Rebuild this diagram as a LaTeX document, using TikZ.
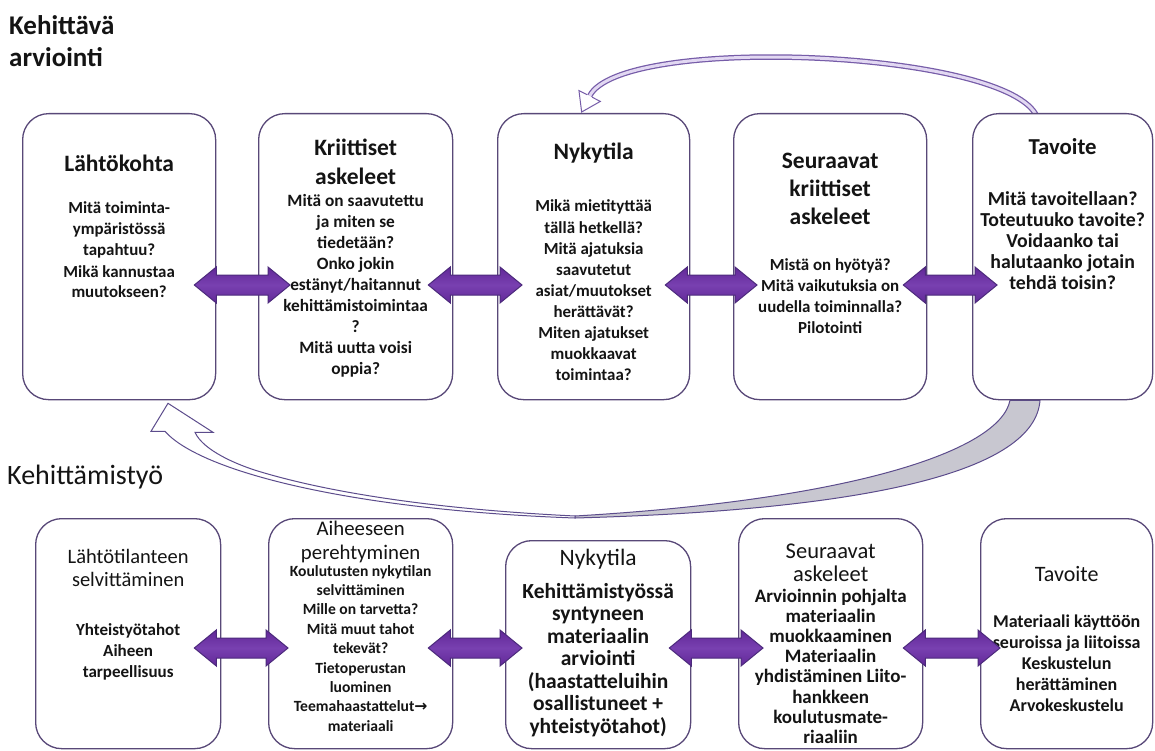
\documentclass[tikz,border=0pt]{standalone}
\usepackage{fontspec}
\setmainfont{Carlito}
\newfontfamily\arrowfont{DejaVu Sans}
\usetikzlibrary{calc}

\definecolor{boxline}{RGB}{88,72,120}
\definecolor{apurple}{RGB}{98,40,152}
\definecolor{apurplelight}{RGB}{120,64,176}
\definecolor{aline}{RGB}{76,42,124}
\definecolor{arcline}{RGB}{118,92,168}
\definecolor{arcfill}{RGB}{226,216,242}
\definecolor{bandfill}{RGB}{200,199,208}
\definecolor{bandline}{RGB}{92,76,140}
\definecolor{ink}{RGB}{20,20,20}

\pgfdeclarelayer{back}
\pgfsetlayers{back,main}

% centred and left-aligned line stacks: baseline on the first line,
% lines set exactly one \baselineskip apart
\newcommand\stackc[1]{{\def\\{\cr}\vtop{\lineskiplimit=-100pt\lineskip=0pt
  \halign{\hfil##\hfil\cr#1\crcr}}}}
\newcommand\stackl[1]{{\def\\{\cr}\vtop{\lineskiplimit=-100pt\lineskip=0pt
  \halign{##\hfil\cr#1\crcr}}}}
\newcommand\fs[2]{\fontsize{#1}{#2}\selectfont}

\tikzset{
  box/.style={draw=boxline, fill=white, line width=1.3pt, rounded corners=26pt,
              inner sep=0pt, anchor=north west},
  txt/.style={anchor=base, inner sep=0pt, text=ink},
  twoarrow/.style={draw=aline, line width=1pt, top color=apurple,
                   bottom color=apurple, middle color=apurplelight},
}

% double block arrow between two boxes on a given row;
% #4 and #5: how far the tips reach into the left and right box
\newcommand\twoway[5]{%
  \path[twoarrow]
    ($(#1.east |- #3)+(-#4,0)$) -- ++(22,-18) -- ++(0,8)
    -- ($(#2.west |- #3)+(#5-22,-10)$) -- ++(0,-8)
    -- ($(#2.west |- #3)+(#5,0)$) -- ++(-22,18) -- ++(0,-8)
    -- ($(#1.east |- #3)+(22-#4,10)$) -- ++(0,8) -- cycle;}

\begin{document}
\begin{tikzpicture}[x=1pt, y=-1pt]
\useasboundingbox (0,0) rectangle (1155,751);
\begin{pgfonlayer}{back}
  \fill[white] (0,0) rectangle (1155,751);
\end{pgfonlayer}

% section headings
\node[txt, anchor=base west, font=\fs{27}{32}\bfseries] (headA) at (9,35)
  {\stackl{Kehittävä\\arviointi}};
\node[txt, anchor=base west, font=\fs{28}{32}] (headB) at (7,484) {Kehittämistyö};

% upper row of boxes
\node[box, minimum width=193pt, minimum height=286pt] (T1) at (22,113) {};
\node[box, minimum width=194pt, minimum height=286pt] (T2) at (258,113) {};
\node[box, minimum width=192pt, minimum height=286pt] (T3) at (497,113) {};
\node[box, minimum width=193pt, minimum height=286pt] (T4) at (733,113) {};
\node[box, minimum width=180pt, minimum height=286pt] (T5) at (972,113) {};

% lower row of boxes
\node[box, minimum width=185pt, minimum height=230pt] (B1) at (35,518) {};
\node[box, minimum width=184pt, minimum height=230pt] (B2) at (268,518) {};
\node[box, minimum width=185pt, minimum height=208pt] (B3) at (505,540) {};
\node[box, minimum width=184pt, minimum height=230pt] (B4) at (738,518) {};
\node[box, minimum width=172pt, minimum height=230pt] (B5) at (980,518) {};

% return arrows behind the boxes
\begin{pgfonlayer}{back}
  % arc from the goal back to the current state
  \coordinate (arcS) at ($(T5.north west)+(65,4)$);
  \coordinate (arcTip) at ($(T3.north)+(-12,-1)$);
  \coordinate (arcB) at ($(arcTip)+(8,-16)$);
  \draw[arcline, line width=5.5pt] (arcS) .. controls +(-27,-67) and +(31.5,-62.3) .. (arcB);
  \draw[arcfill, line width=3pt] (arcS) .. controls +(-27,-67) and +(31.5,-62.3) .. (arcB);
  \filldraw[fill=white, draw=arcline, line width=1pt]
    ($(arcTip)+(10.4,-14.8)$) -- ($(arcTip)+(18.7,-10.6)$) -- (arcTip)
    -- ($(arcTip)+(-2.7,-21.4)$) -- ($(arcTip)+(5.6,-17.2)$);

  % twisted ribbon from the goal back to the starting point
  \coordinate (G1) at ($(T5.south west)+(38,0)$);
  \coordinate (G2) at ($(T5.south west)+(68,0)$);
  \coordinate (M) at (575,517);
  \coordinate (J) at (261,472);
  \coordinate (H) at ($(T1.south west)+(146,3)$);
  % shaded underside of the ribbon
  \filldraw[fill=bandfill, draw=bandline, line width=1pt]
    (G1) .. controls +(-10,51) and +(275,-16) .. ($(M)+(0,-1)$)
    -- ($(M)+(0,1)$) .. controls +(295,-8) and +(-5,71) .. (G2) -- cycle;
  % light upper side of the ribbon with its head
  \filldraw[fill=white, draw=bandline, line width=1pt]
    ($(M)+(0,-1)$) .. controls +(-135,-6.5) and +(72,21.5) .. (J)
    .. controls +(-24,-7) and +(8,18) .. ($(H)+(27,29)$)
    -- ($(H)+(45,29)$) -- (H) -- ($(H)+(-17,28)$) -- ($(H)+(-3,28)$)
    .. controls +(35,40) and +(-225,-8) .. ($(M)+(0,1)$) -- cycle;
\end{pgfonlayer}

% texts of the upper row
\node[txt, font=\fs{23.5}{29}\bfseries] (T1h) at ($(T1.north)+(0,59)$) {Lähtökohta};
\node[txt, font=\fs{16.9}{21}\bfseries] (T1b) at ($(T1.north)+(0,101)$)
  {\stackc{Mitä toiminta-\\ympäristössä\\tapahtuu?\\Mikä kannustaa\\muutokseen?}};

\node[txt, font=\fs{23.5}{29}\bfseries] (T2h) at ($(T2.north)+(0,43)$)
  {\stackc{Kriittiset\\askeleet}};
\node[txt, font=\fs{17.3}{20.9}\bfseries] (T2b) at ($(T2.north)+(0,94)$)
  {\stackc{Mitä on saavutettu\\ja miten se\\tiedetään?\\Onko jokin\\estänyt/haitannut\\kehittämistoimintaa\\?\\Mitä uutta voisi\\oppia?}};

\node[txt, font=\fs{23.5}{29}\bfseries] (T3h) at ($(T3.north)+(0,47)$) {Nykytila};
\node[txt, font=\fs{16.9}{21}\bfseries] (T3b) at ($(T3.north)+(0,99)$)
  {\stackc{Mikä mietityttää\\tällä hetkellä?\\Mitä ajatuksia\\saavutetut\\asiat/muutokset\\herättävät?\\Miten ajatukset\\muokkaavat\\toimintaa?}};

\node[txt, font=\fs{23.5}{28}\bfseries] (T4h) at ($(T4.north)+(0,56)$)
  {\stackc{Seuraavat\\kriittiset\\askeleet}};
\node[txt, font=\fs{16.9}{21.3}\bfseries] (T4b) at ($(T4.north)+(0,157)$)
  {\stackc{Mistä on hyötyä?\\Mitä vaikutuksia on\\uudella toiminnalla?\\Pilotointi}};

\node[txt, font=\fs{22.8}{28}\bfseries] (T5h) at ($(T5.north)+(0,42)$) {Tavoite};
\node[txt, font=\fs{19.8}{21}\bfseries] (T5b) at ($(T5.north)+(0,92.5)$)
  {\stackc{Mitä tavoitellaan?\\Toteutuuko tavoite?\\Voidaanko tai\\halutaanko jotain\\tehdä toisin?}};

% texts of the lower row
\node[txt, font=\fs{20.5}{23}] (B1h) at ($(B1.north)+(0,45)$)
  {\stackc{Lähtötilanteen\\selvittäminen}};
\node[txt, font=\fs{17}{21}\bfseries] (B1b) at ($(B1.north)+(0,117)$)
  {\stackc{Yhteistyötahot\\Aiheen\\tarpeellisuus}};

\node[txt, font=\fs{20.8}{24}] (B2h) at ($(B2.north)+(0,17)$)
  {\stackc{Aiheeseen\\perehtyminen}};
\node[txt, font=\fs{15.6}{19.4}\bfseries] (B2b) at ($(B2.north)+(0,58)$)
  {\stackc{Koulutusten nykytilan\\selvittäminen\\Mille on tarvetta?\\Mitä muut tahot\\tekevät?\\Tietoperustan\\luominen\\Teemahaastattelut{\arrowfont\bfseries →}\\materiaali}};

\node[txt, font=\fs{23.5}{28}] (B3h) at ($(B3.north)+(0,25)$) {Nykytila};
\node[txt, font=\fs{21.5}{22.5}\bfseries] (B3b) at ($(B3.north)+(0,58)$)
  {\stackc{Kehittämistyössä\\syntyneen\\materiaalin\\arviointi\\(haastatteluihin\\osallistuneet +\\yhteistyötahot)}};

\node[txt, font=\fs{22.5}{23}] (B4h) at ($(B4.north)+(0,40.5)$)
  {\stackc{Seuraavat\\askeleet}};
\node[txt, font=\fs{19}{20.2}\bfseries] (B4b) at ($(B4.north)+(0,84)$)
  {\stackc{Arvioinnin pohjalta\\materiaalin\\muokkaaminen\\Materiaalin\\yhdistäminen Liito-\\hankkeen\\koulutusmate-\\riaaliin}};

\node[txt, font=\fs{22}{28}] (B5h) at ($(B5.north)+(0,63)$) {Tavoite};
\node[txt, font=\fs{18}{21}\bfseries] (B5b) at ($(B5.north)+(0,109)$)
  {\stackc{Materiaali käyttöön\\seuroissa ja liitoissa\\Keskustelun\\herättäminen\\Arvokeskustelu}};

% double arrows linking neighbouring boxes
\coordinate (rowA) at (0,285);
\coordinate (rowB) at (0,648);
\twoway{T1}{T2}{rowA}{22}{32}
\twoway{T2}{T3}{rowA}{25}{25}
\twoway{T3}{T4}{rowA}{25}{24}
\twoway{T4}{T5}{rowA}{24}{25}
\twoway{B1}{B2}{rowB}{27}{20}
\twoway{B2}{B3}{rowB}{25}{17}
\twoway{B3}{B4}{rowB}{22}{25}
\twoway{B4}{B5}{rowB}{20}{20}
\end{tikzpicture}
\end{document}
